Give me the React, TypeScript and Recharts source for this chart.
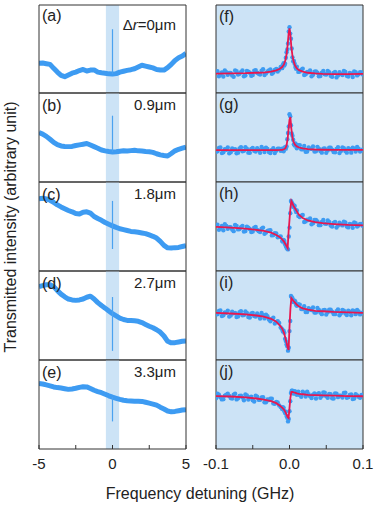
import React from 'react';
import { ComposedChart, Line, Scatter, XAxis, YAxis, ReferenceArea } from 'recharts';

// ---------- data ----------
const traceX = [-5, -4.75, -4.5, -4.25, -4, -3.75, -3.5, -3.25, -3, -2.75, -2.5, -2.25, -2, -1.75, -1.5, -1.25, -1, -0.75, -0.5, -0.25, 0, 0.25, 0.5, 0.75, 1, 1.25, 1.5, 1.75, 2, 2.25, 2.5, 2.75, 3, 3.25, 3.5, 3.75, 4, 4.25, 4.5, 4.75, 5];
const traceA = [1.35, 1.36, 1.33, 1.30, 1.12, 0.95, 0.80, 0.74, 0.82, 0.90, 0.95, 1.02, 1.07, 1.00, 1.04, 1.05, 0.95, 0.92, 0.90, 0.87, 0.86, 0.88, 0.95, 0.99, 1.03, 1.06, 1.10, 1.18, 1.26, 1.22, 1.18, 1.14, 1.07, 1.05, 1.04, 1.15, 1.30, 1.48, 1.60, 1.68, 1.80];
const traceB = [2.22, 2.15, 2.05, 1.92, 1.78, 1.68, 1.62, 1.60, 1.59, 1.60, 1.64, 1.67, 1.70, 1.73, 1.66, 1.59, 1.52, 1.44, 1.40, 1.37, 1.35, 1.36, 1.38, 1.40, 1.39, 1.41, 1.43, 1.40, 1.39, 1.37, 1.36, 1.33, 1.27, 1.22, 1.19, 1.17, 1.28, 1.40, 1.47, 1.52, 1.57];
const traceC = [3.25, 3.27, 3.24, 3.18, 3.08, 2.97, 2.88, 2.80, 2.72, 2.66, 2.58, 2.56, 2.64, 2.66, 2.60, 2.45, 2.36, 2.28, 2.18, 2.10, 2.03, 1.96, 1.90, 1.86, 1.82, 1.78, 1.76, 1.74, 1.71, 1.68, 1.62, 1.56, 1.48, 1.33, 1.15, 1.04, 1.03, 1.05, 1.06, 1.10, 1.14];
const traceD = [3.30, 3.34, 3.38, 3.38, 3.30, 3.12, 2.96, 2.84, 2.74, 2.70, 2.68, 2.70, 2.74, 2.82, 2.87, 2.74, 2.58, 2.45, 2.33, 2.20, 2.08, 1.98, 1.88, 1.82, 1.78, 1.77, 1.76, 1.74, 1.68, 1.60, 1.52, 1.45, 1.36, 1.25, 1.08, 0.84, 0.77, 0.78, 0.81, 0.84, 0.86];
const traceE = [2.94, 2.92, 2.88, 2.84, 2.79, 2.76, 2.74, 2.71, 2.68, 2.70, 2.73, 2.77, 2.80, 2.79, 2.72, 2.64, 2.58, 2.53, 2.46, 2.39, 2.33, 2.28, 2.23, 2.19, 2.17, 2.16, 2.15, 2.15, 2.14, 2.10, 2.06, 2.02, 1.97, 1.88, 1.80, 1.71, 1.67, 1.69, 1.72, 1.75, 1.77];

// narrow spike at zero detuning: [low, high]
const spikeA = [0.86, 2.90];
const spikeB = [1.35, 2.98];
const spikeC = [0.99, 3.15];
const spikeD = [0.41, 2.83];
const spikeE = [1.24, 2.33];

const fitX = [-0.1, -0.08, -0.06, -0.045, -0.035, -0.025, -0.018, -0.013, -0.01, -0.0075, -0.0055, -0.004, -0.0025, -0.0012, 0, 0.0012, 0.0025, 0.004, 0.0055, 0.0075, 0.01, 0.013, 0.018, 0.025, 0.035, 0.045, 0.06, 0.08, 0.1];
const fitF = [0.88, 0.89, 0.90, 0.92, 0.93, 0.97, 1.03, 1.10, 1.18, 1.30, 1.50, 1.75, 2.20, 2.70, 2.94, 2.65, 2.10, 1.70, 1.45, 1.25, 1.12, 1.04, 0.97, 0.92, 0.89, 0.87, 0.86, 0.86, 0.87];
const fitG = [1.43, 1.43, 1.43, 1.43, 1.43, 1.43, 1.43, 1.44, 1.45, 1.47, 1.52, 1.65, 1.95, 2.40, 2.80, 2.92, 2.40, 2.00, 1.80, 1.68, 1.60, 1.55, 1.51, 1.48, 1.46, 1.45, 1.44, 1.44, 1.44];
const fitH = [1.98, 1.95, 1.90, 1.85, 1.80, 1.72, 1.62, 1.52, 1.42, 1.32, 1.20, 1.12, 1.03, 1.79, 2.30, 2.81, 3.15, 3.05, 2.92, 2.82, 2.68, 2.52, 2.38, 2.27, 2.20, 2.15, 2.11, 2.07, 2.05];
const fitI = [2.12, 2.09, 2.05, 2.00, 1.95, 1.85, 1.72, 1.55, 1.42, 1.22, 0.98, 0.78, 0.55, 0.45, 1.49, 2.28, 2.78, 2.72, 2.65, 2.58, 2.48, 2.40, 2.32, 2.26, 2.21, 2.19, 2.16, 2.14, 2.12];
const fitJ = [2.38, 2.36, 2.32, 2.27, 2.22, 2.15, 2.06, 1.94, 1.86, 1.77, 1.66, 1.55, 1.43, 1.39, 1.85, 2.30, 2.57, 2.57, 2.55, 2.53, 2.50, 2.48, 2.46, 2.43, 2.42, 2.41, 2.40, 2.38, 2.37];

const scatterX = [-0.1, -0.096, -0.092, -0.088, -0.084, -0.08, -0.076, -0.072, -0.068, -0.064, -0.06, -0.056, -0.052, -0.048, -0.044, -0.04, -0.036, -0.032, -0.028, -0.024, -0.02, -0.016, -0.012, -0.01, -0.008, -0.006, -0.004, -0.002, 0, 0.002, 0.004, 0.006, 0.008, 0.01, 0.012, 0.016, 0.02, 0.024, 0.028, 0.032, 0.036, 0.04, 0.044, 0.048, 0.052, 0.056, 0.06, 0.064, 0.068, 0.072, 0.076, 0.08, 0.084, 0.088, 0.092, 0.096, 0.1];
const scatF = [0.96, 0.76, 0.93, 1.02, 0.83, 0.91, 0.74, 0.99, 0.87, 1.02, 0.80, 0.97, 0.78, 1.01, 0.92, 0.84, 1.08, 0.89, 1.03, 0.87, 1.05, 0.98, 1.18, 1.13, 1.35, 1.33, 1.85, 2.25, 2.99, 2.47, 1.62, 1.46, 1.18, 1.19, 0.96, 1.06, 0.82, 0.96, 1.02, 0.83, 0.98, 0.76, 0.92, 0.85, 1.00, 0.78, 0.91, 0.71, 0.94, 0.82, 0.96, 0.75, 0.88, 0.98, 0.80, 0.94, 0.84];
const scatG = [1.36, 1.53, 1.30, 1.47, 1.55, 1.34, 1.45, 1.29, 1.51, 1.38, 1.56, 1.32, 1.49, 1.40, 1.52, 1.31, 1.48, 1.54, 1.35, 1.44, 1.30, 1.50, 1.40, 1.50, 1.38, 1.56, 1.60, 2.20, 3.05, 2.55, 2.08, 1.70, 1.73, 1.52, 1.65, 1.47, 1.62, 1.37, 1.50, 1.60, 1.38, 1.50, 1.32, 1.51, 1.42, 1.54, 1.35, 1.48, 1.30, 1.55, 1.39, 1.52, 1.32, 1.50, 1.57, 1.37, 1.46];
const scatH = [2.06, 1.85, 2.02, 2.10, 1.90, 1.97, 1.79, 2.03, 1.89, 2.03, 1.80, 1.95, 1.75, 1.95, 1.85, 1.75, 1.95, 1.73, 1.82, 1.60, 1.70, 1.52, 1.55, 1.35, 1.40, 1.20, 1.05, 0.97, 1.95, 3.15, 3.02, 2.95, 2.75, 2.72, 2.47, 2.49, 2.20, 2.31, 2.36, 2.15, 2.29, 2.06, 2.20, 2.13, 2.27, 2.04, 2.16, 1.95, 2.17, 2.05, 2.18, 1.96, 2.09, 2.18, 2.00, 2.12, 2.02];
const scatI = [2.05, 2.21, 1.98, 2.14, 2.22, 2.00, 2.10, 1.93, 2.15, 2.01, 2.18, 1.93, 2.09, 1.98, 2.09, 1.86, 2.01, 2.04, 1.82, 1.85, 1.64, 1.74, 1.46, 1.38, 1.32, 0.95, 0.70, 0.42, 1.30, 2.88, 2.78, 2.60, 2.62, 2.44, 2.51, 2.29, 2.42, 2.16, 2.27, 2.36, 2.13, 2.25, 2.06, 2.25, 2.15, 2.26, 2.07, 2.19, 2.01, 2.25, 2.09, 2.22, 2.01, 2.19, 2.25, 2.05, 2.14];
const scatJ = [2.28, 2.44, 2.23, 2.40, 2.48, 2.29, 2.44, 2.23, 2.38, 2.31, 2.45, 2.22, 2.35, 2.13, 2.35, 2.21, 2.33, 2.10, 2.20, 2.26, 2.03, 2.09, 1.89, 1.80, 1.85, 1.62, 1.48, 1.24, 1.70, 2.52, 2.62, 2.50, 2.58, 2.44, 2.57, 2.35, 2.50, 2.58, 2.37, 2.44, 2.27, 2.51, 2.38, 2.53, 2.30, 2.46, 2.27, 2.48, 2.39, 2.31, 2.53, 2.33, 2.45, 2.27, 2.41, 2.30, 2.43];

const scatterX2 = [-0.098, -0.094, -0.09, -0.086, -0.082, -0.078, -0.074, -0.07, -0.066, -0.062, -0.058, -0.054, -0.05, -0.046, -0.042, -0.038, -0.034, -0.03, -0.026, -0.022, -0.018, -0.014, -0.009, -0.007, -0.005, -0.003, -0.001, 0.001, 0.003, 0.005, 0.007, 0.009, 0.014, 0.018, 0.022, 0.026, 0.03, 0.034, 0.038, 0.042, 0.046, 0.05, 0.054, 0.058, 0.062, 0.066, 0.07, 0.074, 0.078, 0.082, 0.086, 0.09, 0.094, 0.098];
const scatF2 = [0.99, 0.84, 0.75, 0.95, 0.91, 0.80, 1.02, 0.84, 0.95, 0.76, 1.00, 0.92, 0.82, 1.04, 0.87, 1.01, 0.82, 0.98, 1.07, 0.93, 1.09, 1.06, 1.28, 1.25, 1.60, 1.98, 2.80, 2.70, 2.02, 1.44, 1.33, 1.10, 0.98, 1.10, 0.85, 0.94, 0.76, 0.97, 0.92, 0.77, 1.00, 0.84, 0.94, 0.74, 0.96, 0.80, 0.87, 1.00, 0.78, 0.91, 0.73, 0.95, 0.85, 0.93];
const scatG2 = [1.38, 1.55, 1.34, 1.45, 1.29, 1.51, 1.47, 1.32, 1.56, 1.40, 1.50, 1.31, 1.53, 1.37, 1.44, 1.57, 1.35, 1.48, 1.30, 1.52, 1.41, 1.50, 1.40, 1.53, 1.50, 1.92, 2.50, 2.95, 2.18, 1.90, 1.64, 1.68, 1.65, 1.47, 1.36, 1.55, 1.49, 1.37, 1.58, 1.39, 1.50, 1.31, 1.54, 1.45, 1.34, 1.56, 1.39, 1.52, 1.32, 1.47, 1.54, 1.37, 1.50, 1.42];
const scatH2 = [2.08, 1.93, 1.83, 2.03, 1.97, 1.86, 2.07, 1.87, 1.97, 1.77, 1.99, 1.89, 1.77, 1.98, 1.79, 1.90, 1.67, 1.80, 1.83, 1.62, 1.69, 1.54, 1.32, 1.35, 1.12, 1.00, 1.55, 2.60, 3.08, 2.88, 2.92, 2.65, 2.43, 2.52, 2.23, 2.29, 2.10, 2.29, 2.23, 2.06, 2.29, 2.12, 2.21, 2.00, 2.21, 2.04, 2.10, 2.22, 2.00, 2.12, 1.94, 2.15, 2.04, 2.11];
const scatI2 = [2.06, 2.23, 2.01, 2.12, 1.95, 2.17, 2.12, 1.96, 2.19, 2.02, 2.12, 1.91, 2.12, 1.95, 2.00, 2.11, 1.87, 1.97, 1.74, 1.90, 1.71, 1.66, 1.28, 1.22, 0.85, 0.62, 0.55, 1.75, 2.82, 2.62, 2.66, 2.48, 2.49, 2.29, 2.16, 2.33, 2.25, 2.13, 2.34, 2.14, 2.24, 2.04, 2.26, 2.17, 2.06, 2.27, 2.10, 2.22, 2.02, 2.17, 2.23, 2.06, 2.18, 2.10];
const scatJ2 = [2.49, 2.33, 2.24, 2.44, 2.38, 2.27, 2.48, 2.28, 2.39, 2.19, 2.41, 2.32, 2.19, 2.40, 2.21, 2.32, 2.10, 2.23, 2.26, 2.05, 2.12, 1.96, 1.88, 1.70, 1.68, 1.40, 1.35, 2.15, 2.62, 2.50, 2.60, 2.47, 2.43, 2.58, 2.36, 2.46, 2.29, 2.50, 2.46, 2.30, 2.54, 2.37, 2.47, 2.28, 2.50, 2.33, 2.40, 2.52, 2.30, 2.43, 2.25, 2.46, 2.35, 2.43];

const leftLabels = ['(a)', '(b)', '(c)', '(d)', '(e)'];
const rightLabels = ['(f)', '(g)', '(h)', '(i)', '(j)'];
const distances = ['0μm', '0.9μm', '1.8μm', '2.7μm', '3.3μm'];
const leftXTicks = [-5, -2.5, 0, 2.5, 5];
const rightXTicks = [-0.1, -0.05, 0, 0.05, 0.1];
const yTicks = [0.3, 1.3, 2.3, 3.3];
const xLabel = 'Frequency detuning (GHz)';
const yLabel = 'Transmitted intensity (arbitrary unit)';

// ---------- styling / layout ----------
const FONT = '"Liberation Sans", Arial, Helvetica, sans-serif';
const AXIS = '#333';
const BLUE = '#3d9bf2';
const BAND = '#cce3f6';
const RED = '#e8174f';
const PLOT_W = 147;
const PAD_X = 16;
const PAD_Y = 4;
const LABEL_H = 28;
const LEFT_X = 39;
const RIGHT_X = 216;
const TOPS = [5, 93, 182, 271, 360];
const HEIGHTS = [88, 89, 89, 89, 89];

const pts = (xs: number[], ys: number[]) => xs.map((x, i) => ({ x, y: ys[i] }));
const spikePts = (s: number[]) => [{ x: 0, y: s[0] }, { x: 0, y: s[1] }];

const traces = [traceA, traceB, traceC, traceD, traceE];
const spikes = [spikeA, spikeB, spikeC, spikeD, spikeE];
const fits = [fitF, fitG, fitH, fitI, fitJ];
const scats = [scatF, scatG, scatH, scatI, scatJ];
const scats2 = [scatF2, scatG2, scatH2, scatI2, scatJ2];

const Dot = (p: any) => <circle cx={p.cx} cy={p.cy} r={2.2} fill={BLUE} />;

function Panel({ idx, right }: { idx: number; right: boolean }) {
  const bottom = idx === 4;
  const h = HEIGHTS[idx];
  const extra = bottom ? LABEL_H : 0;
  const domainX: [number, number] = right ? [-0.1, 0.1] : [-5, 5];
  const ticksX = right ? rightXTicks : leftXTicks;
  const fmt = (v: number) =>
    right ? (Math.abs(Math.abs(v) - 0.1) < 1e-9 || v === 0 ? v.toFixed(1) : '') : v % 5 === 0 ? String(v) : '';
  const left = right ? RIGHT_X : LEFT_X;
  const extraProps: any = { zIndex: 900 };
  return (
    <div style={{ position: 'absolute', left: left - PAD_X, top: TOPS[idx] - PAD_Y }}>
      <ComposedChart
        width={PLOT_W + 2 * PAD_X}
        height={h + 2 * PAD_Y + extra}
        margin={{ top: PAD_Y - 1, right: PAD_X - 1, bottom: PAD_Y - 1 + extra, left: PAD_X - 1 }}
      >
        {right ? (
          <ReferenceArea x1={-0.1} x2={0.1} y1={0} y2={4} fill={BAND} fillOpacity={1} stroke="none" ifOverflow="visible" />
        ) : (
          <ReferenceArea x1={-0.45} x2={0.45} y1={0} y2={4} fill={BAND} fillOpacity={1} stroke="none" ifOverflow="visible" />
        )}
        <XAxis
          type="number"
          dataKey="x"
          domain={domainX}
          ticks={ticksX}
          interval={0}
          allowDataOverflow
          orientation="bottom"
          height={1}
          stroke={AXIS}
          tickSize={-4}
          tickMargin={13}
          tick={bottom ? { fontSize: 15, fill: '#222', fontFamily: FONT } : false}
          tickFormatter={fmt}
        />
        <XAxis
          xAxisId="top"
          type="number"
          domain={domainX}
          ticks={ticksX}
          interval={0}
          allowDataOverflow
          orientation="top"
          height={1}
          stroke={AXIS}
          tickSize={-4}
          tick={false}
        />
        <YAxis
          type="number"
          dataKey="y"
          domain={[0, 4]}
          ticks={yTicks}
          interval={0}
          allowDataOverflow
          width={1}
          stroke={AXIS}
          tickSize={-4}
          tick={false}
        />
        <YAxis
          yAxisId="r"
          orientation="right"
          type="number"
          domain={[0, 4]}
          ticks={yTicks}
          interval={0}
          allowDataOverflow
          width={1}
          stroke={AXIS}
          tickSize={-4}
          tick={false}
        />
        {right ? (
          <Scatter data={pts(scatterX, scats[idx])} dataKey="y" fill={BLUE} shape={Dot} isAnimationActive={false} />
        ) : null}
        {right ? (
          <Scatter data={pts(scatterX2, scats2[idx])} dataKey="y" fill={BLUE} shape={Dot} isAnimationActive={false} />
        ) : null}
        {right ? null : (
          <Line data={pts(traceX, traces[idx])} dataKey="y" type="linear" stroke={BLUE} strokeWidth={5} strokeLinejoin="round" dot={false} isAnimationActive={false} />
        )}
        {right ? (
          <Line data={pts(fitX, fits[idx])} dataKey="y" type="linear" stroke={RED} strokeWidth={1.8} dot={false} isAnimationActive={false} {...extraProps} />
        ) : (
          <Line data={spikePts(spikes[idx])} dataKey="y" type="linear" stroke="#4aa2f0" strokeWidth={1.2} dot={false} isAnimationActive={false} />
        )}
      </ComposedChart>
    </div>
  );
}

export default function App() {
  const idxs = [0, 1, 2, 3, 4];
  return (
    <div style={{ position: 'absolute', left: 0, top: 0, width: 374, height: 505, background: '#fff', fontFamily: FONT }}>
      {idxs.map((i) => (
        <Panel key={'l' + i} idx={i} right={false} />
      ))}
      {idxs.map((i) => (
        <Panel key={'r' + i} idx={i} right={true} />
      ))}
      <svg width={374} height={505} style={{ position: 'absolute', left: 0, top: 0, pointerEvents: 'none' }}>
        <g fontFamily={FONT} fill="#222">
          {idxs.map((i) => (
            <text key={'ll' + i} x={LEFT_X + 3} y={TOPS[i] + (i === 0 ? 10 : 12)} fontSize={16} dominantBaseline="central">
              {leftLabels[i]}
            </text>
          ))}
          {idxs.map((i) => (
            <text key={'rl' + i} x={RIGHT_X + 3} y={TOPS[i] + 11} fontSize={16} dominantBaseline="central">
              {rightLabels[i]}
            </text>
          ))}
          {idxs.map((i) => (
            <text key={'d' + i} x={176} y={TOPS[i] + (i === 0 ? 19 : 11)} fontSize={15} textAnchor="end" dominantBaseline="central">
              {i === 0 ? (
                <>
                  <tspan>Δ</tspan>
                  <tspan fontStyle="italic">r</tspan>
                  <tspan>=</tspan>
                </>
              ) : null}
              <tspan>{distances[i]}</tspan>
            </text>
          ))}
          <text x={200} y={493} fontSize={16} textAnchor="middle" dominantBaseline="central">
            {xLabel}
          </text>
          <text transform="translate(10,227) rotate(-90)" fontSize={16} textAnchor="middle" dominantBaseline="central">
            {yLabel}
          </text>
        </g>
      </svg>
    </div>
  );
}
